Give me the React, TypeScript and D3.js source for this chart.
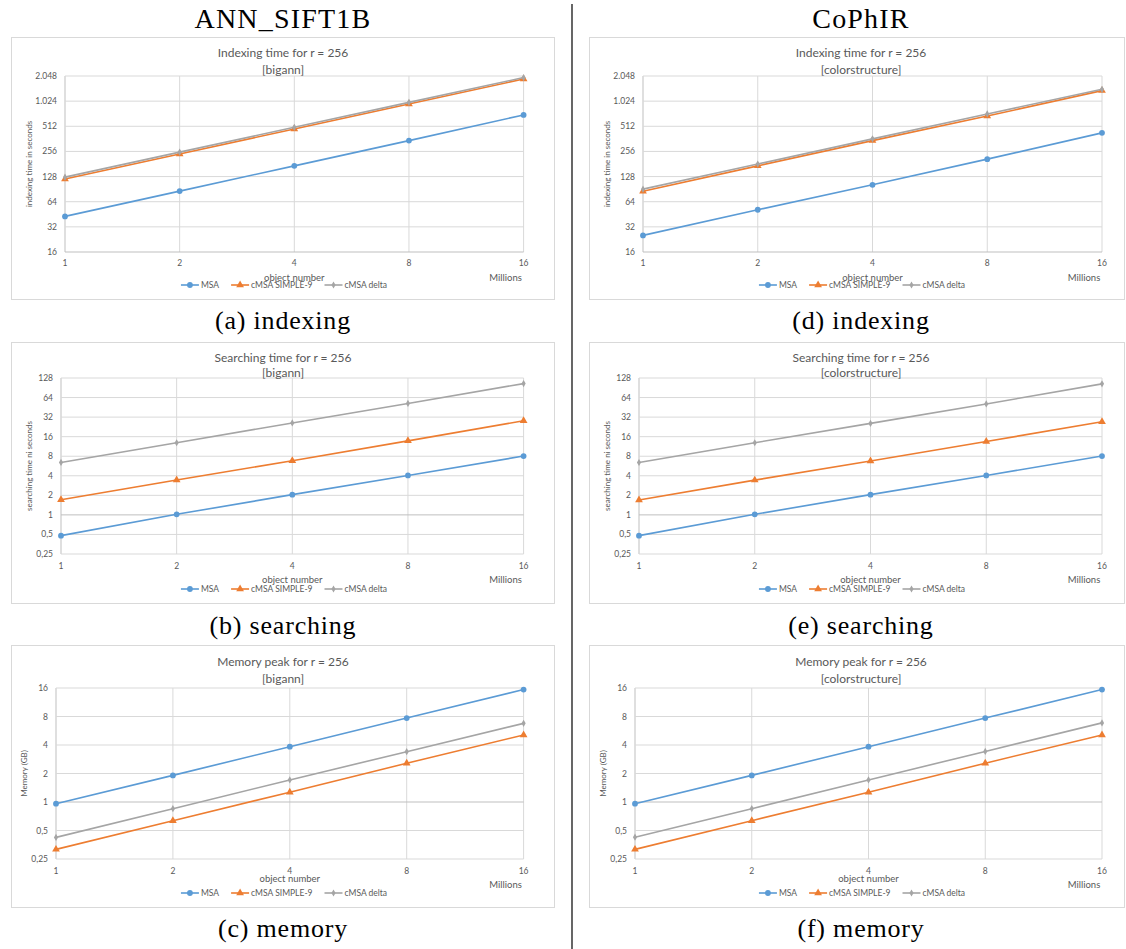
import { useEffect, useRef } from 'react';
import * as d3 from 'd3';

const X_VALUES = [1, 2, 4, 8, 16];
const SERIES = ['MSA', 'cMSA SIMPLE-9', 'cMSA delta'];
const COLORS = ['#5b9bd5', '#ed7d31', '#a5a5a5'];

// indexing time (s)
const IDX_BIGANN_MSA = [42.7, 85.7, 172, 345, 700];
const IDX_BIGANN_S9 = [120, 239, 475, 948, 1885];
const IDX_BIGANN_DELTA = [126, 251, 498, 990, 1960];
const IDX_COPHIR_MSA = [25.3, 51.3, 102, 207, 427];
const IDX_COPHIR_S9 = [85.6, 172, 345, 680, 1368];
const IDX_COPHIR_DELTA = [90.5, 181, 362, 720, 1420];

// searching time (s)
const SRC_BIGANN_MSA = [0.479, 1.02, 2.05, 4.05, 8.05];
const SRC_BIGANN_S9 = [1.71, 3.44, 6.82, 13.8, 28.1];
const SRC_BIGANN_DELTA = [6.42, 12.9, 26, 52, 105];
const SRC_COPHIR_MSA = [0.479, 1.02, 2.05, 4.05, 8.05];
const SRC_COPHIR_S9 = [1.7, 3.43, 6.75, 13.5, 27.1];
const SRC_COPHIR_DELTA = [6.4, 12.9, 25.6, 51, 104];

// memory peak (GB)
const MEM_BIGANN_MSA = [0.96, 1.91, 3.84, 7.7, 15.4];
const MEM_BIGANN_S9 = [0.316, 0.635, 1.27, 2.57, 5.1];
const MEM_BIGANN_DELTA = [0.423, 0.85, 1.71, 3.4, 6.77];
const MEM_COPHIR_MSA = [0.96, 1.91, 3.84, 7.7, 15.4];
const MEM_COPHIR_S9 = [0.316, 0.635, 1.27, 2.57, 5.1];
const MEM_COPHIR_DELTA = [0.425, 0.85, 1.71, 3.42, 6.85];

const IDX_TICKS = [16, 32, 64, 128, 256, 512, 1024, 2048];
const IDX_TICK_LABELS = ['16', '32', '64', '128', '256', '512', '1.024', '2.048'];
const SRC_TICKS = [0.25, 0.5, 1, 2, 4, 8, 16, 32, 64, 128];
const SRC_TICK_LABELS = ['0,25', '0,5', '1', '2', '4', '8', '16', '32', '64', '128'];
const MEM_TICKS = [0.25, 0.5, 1, 2, 4, 8, 16];
const MEM_TICK_LABELS = ['0,25', '0,5', '1', '2', '4', '8', '16'];

const COLUMNS = ['ANN_SIFT1B', 'CoPhIR'];

const FONT = 'Lato, "Open Sans", sans-serif';
const SERIF = '"Liberation Serif", "DejaVu Serif", serif';
const TXT = '#595959';

// box rows: offsets relative to box top
const ROWS = [
  { top: 37, h: 262, title: 16, sub: 33, pt: 39, pb: 215, xl: 226, on: 241, lg: 248, mil: 241, cap: 329 },
  { top: 342, h: 261, title: 16, sub: 31, pt: 36, pb: 212, xl: 224, on: 238, lg: 247, mil: 238, cap: 634 },
  { top: 645, h: 262, title: 17, sub: 34, pt: 43, pb: 214, xl: 226, on: 234, lg: 248, mil: 240, cap: 937 },
];
const COLS = [
  { x0: 11, x1: 555, right: 523.6, mid: 283 },
  { x0: 589, x1: 1125, right: 1102, mid: 861 },
];

const CHARTS = [
  { col: 0, row: 0, title: 'Indexing time for r = 256', sub: '[bigann]', yTitle: 'indexing time in seconds', ticks: IDX_TICKS, labels: IDX_TICK_LABELS, cross: 16, data: [IDX_BIGANN_MSA, IDX_BIGANN_S9, IDX_BIGANN_DELTA], caption: '(a) indexing', left: 65, yt: 29 },
  { col: 0, row: 1, title: 'Searching time for r = 256', sub: '[bigann]', yTitle: 'searching time ni seconds', ticks: SRC_TICKS, labels: SRC_TICK_LABELS, cross: 1, data: [SRC_BIGANN_MSA, SRC_BIGANN_S9, SRC_BIGANN_DELTA], caption: '(b) searching', left: 61, yt: 29 },
  { col: 0, row: 2, title: 'Memory peak for r = 256', sub: '[bigann]', yTitle: 'Memory (GB)', ticks: MEM_TICKS, labels: MEM_TICK_LABELS, cross: 1, data: [MEM_BIGANN_MSA, MEM_BIGANN_S9, MEM_BIGANN_DELTA], caption: '(c) memory', left: 56, yt: 24 },
  { col: 1, row: 0, title: 'Indexing time for r = 256', sub: '[colorstructure]', yTitle: 'indexing time in seconds', ticks: IDX_TICKS, labels: IDX_TICK_LABELS, cross: 16, data: [IDX_COPHIR_MSA, IDX_COPHIR_S9, IDX_COPHIR_DELTA], caption: '(d) indexing', left: 643, yt: 607 },
  { col: 1, row: 1, title: 'Searching time for r = 256', sub: '[colorstructure]', yTitle: 'searching time ni seconds', ticks: SRC_TICKS, labels: SRC_TICK_LABELS, cross: 1, data: [SRC_COPHIR_MSA, SRC_COPHIR_S9, SRC_COPHIR_DELTA], caption: '(e) searching', left: 639, yt: 607 },
  { col: 1, row: 2, title: 'Memory peak for r = 256', sub: '[colorstructure]', yTitle: 'Memory (GB)', ticks: MEM_TICKS, labels: MEM_TICK_LABELS, cross: 1, data: [MEM_COPHIR_MSA, MEM_COPHIR_S9, MEM_COPHIR_DELTA], caption: '(f) memory', left: 635, yt: 603 },
];

function marker(sel: any, i: number, x: number, y: number) {
  const c = COLORS[i];
  if (i === 0) sel.append('circle').attr('cx', x).attr('cy', y).attr('r', 2.9).attr('fill', c);
  else if (i === 1) sel.append('path').attr('d', d3.symbol(d3.symbolTriangle, 26)()).attr('transform', `translate(${x},${y})`).attr('fill', c);
  else sel.append('path').attr('d', d3.symbol(d3.symbolDiamond, 15)()).attr('transform', `translate(${x},${y})`).attr('fill', c);
}

function drawChart(svg: any, c: any) {
  const R = ROWS[c.row], C = COLS[c.col];
  const g = svg.append('g').attr('transform', `translate(0,${R.top})`);
  g.append('rect').attr('x', C.x0 + 0.5).attr('y', 0.5).attr('width', C.x1 - C.x0 - 1).attr('height', R.h)
    .attr('fill', '#fff').attr('stroke', '#d9d9d9');
  const x = d3.scaleLog().base(2).domain([1, 16]).range([c.left, C.right]);
  const y = d3.scaleLog().base(2).domain([c.ticks[0], c.ticks[c.ticks.length - 1]]).range([R.pb, R.pt]);

  X_VALUES.forEach(v => g.append('line').attr('x1', x(v)).attr('x2', x(v)).attr('y1', R.pt).attr('y2', R.pb)
    .attr('stroke', v === 1 ? '#bfbfbf' : '#d9d9d9').attr('stroke-width', 1));
  c.ticks.forEach((t: number) => g.append('line').attr('x1', x(1)).attr('x2', x(16)).attr('y1', y(t)).attr('y2', y(t))
    .attr('stroke', t === c.cross ? '#bfbfbf' : '#d9d9d9').attr('stroke-width', 1));

  c.ticks.forEach((t: number, i: number) => g.append('text').attr('x', c.left - 8).attr('y', y(t) + 3)
    .attr('text-anchor', 'end').attr('font-size', 8.5).attr('fill', TXT).attr('font-family', FONT).text(c.labels[i]));
  X_VALUES.forEach(v => g.append('text').attr('x', x(v)).attr('y', R.xl + 3)
    .attr('text-anchor', 'middle').attr('font-size', 8.5).attr('fill', TXT).attr('font-family', FONT).text(v));

  g.append('text').attr('transform', `translate(${c.yt},${(R.pt + R.pb) / 2}) rotate(-90)`)
    .attr('text-anchor', 'middle').attr('dy', 3).attr('font-size', 8).attr('fill', TXT).attr('font-family', FONT).text(c.yTitle);
  g.append('text').attr('x', C.mid).attr('y', R.title + 4).attr('text-anchor', 'middle')
    .attr('font-size', 12).attr('fill', TXT).attr('font-family', FONT).text(c.title);
  g.append('text').attr('x', C.mid).attr('y', R.sub + 4).attr('text-anchor', 'middle')
    .attr('font-size', 12).attr('fill', TXT).attr('font-family', FONT).text(c.sub);
  g.append('text').attr('x', x(4)).attr('y', R.on + 3).attr('text-anchor', 'middle')
    .attr('font-size', 9.5).attr('fill', TXT).attr('font-family', FONT).text('object number');
  g.append('text').attr('x', C.right - 18).attr('y', R.mil + 3).attr('text-anchor', 'middle')
    .attr('font-size', 9.5).attr('fill', TXT).attr('font-family', FONT).text('Millions');

  const line = d3.line<number>().x((_, i) => x(X_VALUES[i])).y(d => y(d));
  c.data.forEach((s: number[], i: number) => {
    g.append('path').attr('d', line(s)).attr('fill', 'none').attr('stroke', COLORS[i]).attr('stroke-width', 1.6);
    s.forEach((d, j) => marker(g, i, x(X_VALUES[j]), y(d)));
  });

  // legend
  const lg = g.append('g');
  let lx = 0;
  SERIES.forEach((name, i) => {
    lg.append('line').attr('x1', lx).attr('x2', lx + 18).attr('y1', R.lg).attr('y2', R.lg).attr('stroke', COLORS[i]).attr('stroke-width', 1.6);
    marker(lg, i, lx + 9, R.lg);
    const t = lg.append('text').attr('x', lx + 20).attr('y', R.lg + 3).attr('font-size', 8.5)
      .attr('fill', TXT).attr('font-family', FONT).text(name);
    lx += 20 + (t.node() as SVGTextElement).getComputedTextLength() + 12;
  });
  lg.attr('transform', `translate(${C.mid + 1 - (lx - 12) / 2},0)`);

  svg.append('text').attr('x', C.mid).attr('y', R.cap).attr('text-anchor', 'middle')
    .attr('font-size', 26).attr('letter-spacing', 0.8).attr('fill', '#000').attr('font-family', SERIF).text(c.caption);
}

export default function App() {
  const ref = useRef<SVGSVGElement>(null);
  useEffect(() => {
    const svg = d3.select(ref.current); svg.selectAll('*').remove();
    svg.append('rect').attr('width', 1126).attr('height', 949).attr('fill', '#fff');
    COLUMNS.forEach((h, i) => svg.append('text').attr('x', COLS[i].mid).attr('y', 28).attr('text-anchor', 'middle')
      .attr('font-size', 28).attr('letter-spacing', 1.2).attr('fill', '#000').attr('font-family', SERIF).text(h));
    svg.append('line').attr('x1', 572).attr('x2', 572).attr('y1', 4).attr('y2', 949).attr('stroke', '#000').attr('stroke-width', 1.2);
    CHARTS.forEach(c => drawChart(svg, c));
  }, []);
  return <svg ref={ref} width={1126} height={949} style={{ position: 'absolute', left: 0, top: 0 }} />;
}
